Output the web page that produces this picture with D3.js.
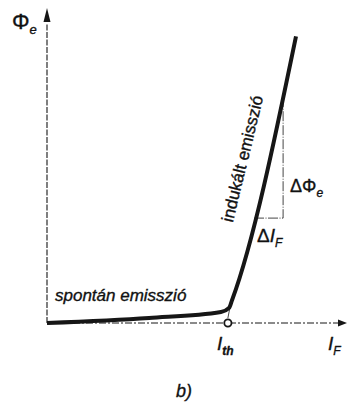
<!DOCTYPE html>
<html>
<head>
<meta charset="utf-8">
<script src="https://cdn.jsdelivr.net/npm/d3@7"></script>
<style>
  body { margin: 0; background: #fff; }
  text { font-family: "Liberation Sans", Arial, sans-serif; fill: #111; stroke: #111; stroke-width: 0.35px; }
</style>
</head>
<body>
<svg id="chart" width="348" height="402"></svg>
<script>
// current (I_F) and flux (Phi_e) in arbitrary units 0..100
const curveI   = [0, 34, 58, 60.7, 61.7, 83];
const curveP   = [0, 1.6, 3.5, 4.8, 7.3, 91];
const thresholdI = 60.3;
const triI = [69, 78.7];       // ΔI_F span
const triP = [33.3, 72.4];     // ΔΦe span

const svg = d3.select('#chart');
const x = d3.scaleLinear().domain([0, 100]).range([47, 347]);
const y = d3.scaleLinear().domain([0, 100]).range([323, 8]);

const ink = '#161616';

// axes
svg.append('line')
    .attr('x1', x(0)).attr('y1', y(0))
    .attr('x2', x(0)).attr('y2', y(95))
    .attr('stroke', ink).attr('stroke-width', 1.1)
    .attr('stroke-dasharray', '6,1.5');
svg.append('path')
    .attr('d', `M${x(0)},${y(100)} L${x(0) - 3.5},${y(100) + 14} L${x(0) + 3.5},${y(100) + 14} Z`)
    .attr('fill', ink);

svg.append('line')
    .attr('x1', x(0)).attr('y1', y(0))
    .attr('x2', x(98)).attr('y2', y(0))
    .attr('stroke', ink).attr('stroke-width', 1)
    .attr('stroke-dasharray', '7,2,2,2');
svg.append('path')
    .attr('d', `M${x(100)},${y(0)} L${x(100) - 9},${y(0) - 3.5} L${x(100) - 9},${y(0) + 3.5} Z`)
    .attr('fill', ink);

// triangle for slope
svg.append('polyline')
    .attr('points', [[triI[0], triP[0]], [triI[1], triP[0]], [triI[1], triP[1]]]
        .map(d => [x(d[0]), y(d[1])].join(',')).join(' '))
    .attr('fill', 'none').attr('stroke', ink).attr('stroke-width', 0.8)
    .attr('stroke-dasharray', '10,1.5,1,1.5');

// threshold drop line
svg.append('line')
    .attr('x1', x(thresholdI)).attr('y1', y(1.6))
    .attr('x2', x(61.2)).attr('y2', y(6))
    .attr('stroke', ink).attr('stroke-width', 0.8);

// characteristic curve
const pts = curveI.map((v, i) => [v, curveP[i]]);
svg.append('path')
    .datum(pts)
    .attr('d', d3.line().x(d => x(d[0])).y(d => y(d[1])).curve(d3.curveMonotoneX))
    .attr('fill', 'none').attr('stroke', ink).attr('stroke-width', 4)
    .attr('stroke-linejoin', 'round');

svg.append('circle')
    .attr('cx', x(thresholdI)).attr('cy', y(0)).attr('r', 3.6)
    .attr('fill', '#fff').attr('stroke', ink).attr('stroke-width', 1.8);

// labels
const ang = Math.atan2(y(curveP[5]) - y(curveP[4]), x(curveI[5]) - x(curveI[4])) * 180 / Math.PI;
svg.append('text')
    .attr('transform', `translate(248,160) rotate(${ang})`)
    .attr('text-anchor', 'middle')
    .style('font-size', '17px')
    .text('indukált emisszió');

svg.append('text')
    .attr('x', 55).attr('y', 301)
    .style('font-size', '17px').style('font-style', 'italic')
    .text('spontán emisszió');

const phi = svg.append('text').attr('x', 12).attr('y', 29).style('font-size', '22px');
phi.append('tspan').text('Φ');
phi.append('tspan').attr('dy', 5).style('font-size', '13px').style('font-style', 'italic').text('e');

const dphi = svg.append('text').attr('x', 290).attr('y', 192).style('font-size', '18px');
dphi.append('tspan').text('ΔΦ');
dphi.append('tspan').attr('dy', 5).style('font-size', '12px').style('font-style', 'italic').text('e');

const di = svg.append('text').attr('x', 257).attr('y', 242).style('font-size', '19px');
di.append('tspan').text('Δ');
di.append('tspan').style('font-style', 'italic').text('I');
di.append('tspan').attr('dy', 5).style('font-size', '12px').style('font-style', 'italic').text('F');

const ith = svg.append('text').attr('x', 217).attr('y', 350).style('font-size', '19px').style('font-style', 'italic');
ith.append('tspan').text('I');
ith.append('tspan').attr('dy', 5).style('font-size', '12px').style('font-weight', 'bold').text('th');

const iF = svg.append('text').attr('x', 328).attr('y', 350).style('font-size', '19px').style('font-style', 'italic');
iF.append('tspan').text('I');
iF.append('tspan').attr('dy', 5).style('font-size', '12px').text('F');

svg.append('text')
    .attr('x', 184).attr('y', 397).attr('text-anchor', 'middle')
    .style('font-size', '18px').style('font-style', 'italic')
    .text('b)');
</script>
</body>
</html>
